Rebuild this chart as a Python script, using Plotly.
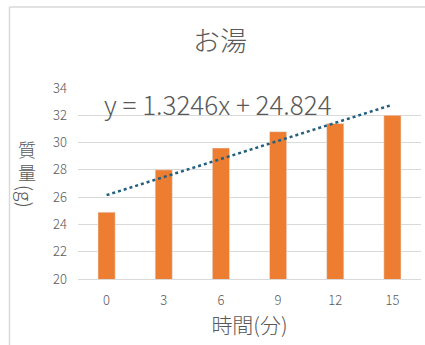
import plotly.graph_objects as go

categories = ["0", "3", "6", "9", "12", "15"]
mass = [24.9, 28.0, 29.6, 30.8, 31.4, 32.0]
trend_slope = 1.3246
trend_intercept = 24.824
y_ticks = [20, 22, 24, 26, 28, 30, 32, 34]

trend_y = [trend_slope * (i + 1) + trend_intercept for i in range(len(categories))]

W, H = 425, 345
ML, MR, MT, MB = 78, 4, 88, 66
PW, PH = W - ML - MR, H - MT - MB

def px(x):
    return (x - ML) / PW

def py(y):
    return (H - MB - y) / PH

grey = "#595959"
font_jp = "Noto Sans CJK JP, Noto Sans, sans-serif"

fig = go.Figure()
fig.add_trace(go.Bar(x=categories, y=mass, marker_color="#ED7D31", width=0.3,
                     showlegend=False))
fig.add_trace(go.Scatter(x=categories, y=trend_y, mode="lines",
                         line=dict(color="#23607F", width=2.5, dash="dot"),
                         showlegend=False))

fig.update_layout(
    width=W, height=H,
    margin=dict(l=ML, r=MR, t=MT, b=MB),
    paper_bgcolor="white", plot_bgcolor="white",
    font=dict(family=font_jp, color=grey, weight=300),
    xaxis=dict(type="category", showgrid=False, showline=True, linecolor="#D9D9D9",
               ticks="", tickfont=dict(size=13, color=grey, weight=300), ticklabelstandoff=9,
               title=dict(text="時間(分)", font=dict(size=21, color=grey, weight=300), standoff=10)),
    yaxis=dict(range=[20, 34], tickvals=y_ticks, showgrid=True, gridcolor="#D9D9D9",
               zeroline=False, ticks="", tickfont=dict(size=13, color=grey, weight=300),
               ticklabelstandoff=10),
)

annotations = [
    dict(text="お湯", x=px(220), y=py(40), font=dict(size=27, color=grey, weight=300)),
    dict(text="y = 1.3246x + 24.824", x=px(218), y=py(103), font=dict(size=26, color=grey, weight=300)),
    dict(text="質<br>量", x=px(27), y=py(160), font=dict(size=18, color=grey, weight=300)),
    dict(text="(g)", x=px(27), y=py(196), textangle=90, font=dict(size=19, color=grey, weight=300)),
]
for a in annotations:
    a.update(xref="paper", yref="paper", showarrow=False, xanchor="center", yanchor="middle")
    fig.add_annotation(**a)

fig.add_shape(type="line", xref="paper", yref="paper", x0=px(9.5), x1=px(9.5), y0=py(7), y1=py(345),
              line=dict(color="#D9D9D9", width=1.5))
fig.add_shape(type="line", xref="paper", yref="paper", x0=px(9.5), x1=px(425), y0=py(7), y1=py(7),
              line=dict(color="#D9D9D9", width=1.5))

fig.write_html("out.html")
